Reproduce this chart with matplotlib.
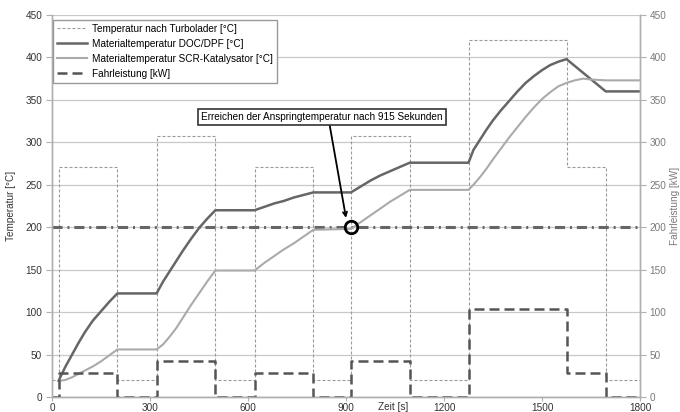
import matplotlib
matplotlib.use("Agg")
import matplotlib.pyplot as plt

plt.rcParams['font.family'] = ['Liberation Sans', 'DejaVu Sans']
plt.rcParams['font.size'] = 7.2

# step profiles (edges in seconds, one value per interval)
step_edges = [0, 20, 200, 320, 500, 620, 800, 915, 1095, 1275, 1575, 1695, 1800]
turbo_temp = [20, 271, 20, 307, 20, 271, 20, 307, 20, 421, 271, 20]
fahrleistung = [0, 28, 0, 43, 0, 28, 0, 43, 0, 104, 28, 0]

# material temperatures
doc_t = [20, 40, 60, 80, 100, 125, 150, 175, 200, 320,
         340, 360, 380, 400, 425, 450, 475, 500, 620,
         650, 680, 710, 740, 770, 800, 915,
         945, 975, 1005, 1035, 1065, 1095, 1275,
         1290, 1310, 1330, 1350, 1375, 1400, 1425, 1450, 1475, 1500, 1525, 1550, 1575,
         1635, 1695, 1800]
doc_temp = [19, 35, 49, 63, 76, 90, 101, 112, 122, 122,
            136, 148, 160, 172, 186, 199, 210, 220, 220,
            224, 228, 231, 235, 238, 241, 241,
            248, 255, 261, 266, 271, 276, 276,
            291, 303, 315, 326, 338, 349, 360, 370, 378, 385, 391, 395, 398,
            379, 360, 360]

scr_t = [20, 40, 60, 80, 100, 125, 150, 175, 200, 320,
         340, 360, 380, 400, 425, 450, 475, 500, 620,
         650, 680, 710, 740, 770, 800, 915,
         945, 975, 1005, 1035, 1065, 1095, 1275,
         1290, 1310, 1330, 1350, 1375, 1400, 1425, 1450, 1475, 1500, 1525, 1550, 1575,
         1600, 1625, 1650, 1695, 1800]
scr_temp = [19, 20, 23, 27, 31, 36, 42, 49, 56, 56,
            62, 71, 81, 93, 108, 122, 136, 149, 149,
            158, 166, 174, 181, 189, 197, 198,
            206, 214, 222, 230, 237, 244, 244,
            250, 259, 269, 280, 293, 306, 318, 330, 341, 351, 359, 366, 370,
            373, 375, 374, 373, 373]

light_off_temp = 200
light_off_time = 915

fig, ax = plt.subplots(figsize=(6.8, 4.12), dpi=100)
fig.subplots_adjust(left=0.0765, right=0.9412, bottom=0.0364, top=0.9636)
ax2 = ax.twinx()

grid_c = '#c8c8c8'
for a in (ax, ax2):
    a.set_xlim(0, 1800)
    a.set_ylim(0, 450)
    a.set_yticks(range(0, 451, 50))
    a.spines['top'].set_visible(False)
    for s in ('left', 'right', 'bottom'):
        a.spines[s].set_color('#b0b0b0')
        a.spines[s].set_linewidth(1.0)
ax.set_xticks(range(0, 1801, 300))
ax.yaxis.grid(True, color=grid_c, lw=0.9)
ax.set_axisbelow(True)
ax.tick_params(axis='y', length=4, width=0.8, color='#b0b0b0', labelcolor='#333333', pad=3)
ax.tick_params(axis='x', length=3, width=0.8, color='#b0b0b0', labelcolor='#333333', pad=1)
ax2.tick_params(axis='y', length=4, width=0.8, color='#b0b0b0', labelcolor='#7a7a7a', pad=3)

l_turbo, = ax.step(step_edges, turbo_temp + turbo_temp[-1:], where='post', color='#999999',
                   lw=0.8, dashes=(2.7, 1.8), label='Temperatur nach Turbolader [°C]')
ax.axhline(light_off_temp, color='#666666', lw=2.2, dashes=(3.3, 1.6, 0.65, 1.6))
l_doc, = ax.plot(doc_t, doc_temp, color='#666666', lw=1.8, label='Materialtemperatur DOC/DPF [°C]')
l_scr, = ax.plot(scr_t, scr_temp, color='#aaaaaa', lw=1.5,
                 label='Materialtemperatur SCR-Katalysator [°C]')

l_fahr, = ax2.step(step_edges, fahrleistung + fahrleistung[-1:], where='post', color='#555555',
                   lw=1.8, dashes=(4, 2), label='Fahrleistung [kW]')

ax2.plot([light_off_time], [light_off_temp], 'o', ms=9, mfc='none', mec='black', mew=2, zorder=6)
ax2.annotate('Erreichen der Anspringtemperatur nach 915 Sekunden',
             xy=(900, 211), xytext=(826, 330), textcoords='data', ha='center', va='center',
             bbox=dict(boxstyle='square,pad=0.3', fc='white', ec='#333333', lw=1.2),
             arrowprops=dict(arrowstyle='->', color='black', lw=1.3, relpos=(0.53, 0.0),
                             shrinkA=0, shrinkB=0))

ax.set_ylabel('Temperatur [°C]', color='#333333')
ax.yaxis.set_label_coords(-0.062, 0.5)
ax2.set_ylabel('Fahrleistung [kW]', color='#7a7a7a', rotation=90)
ax2.yaxis.set_label_coords(1.051, 0.5)
ax.set_xlabel('Zeit [s]', color='#333333')
ax.xaxis.set_label_coords(0.58, -0.012)

leg = ax2.legend(handles=[l_turbo, l_doc, l_scr, l_fahr], loc='upper left',
                 bbox_to_anchor=(0.002, 0.987), borderaxespad=0, fancybox=False,
                 framealpha=1, edgecolor='#999999', borderpad=0.4, handlelength=3.0,
                 handletextpad=0.45, labelspacing=0.5)
leg.get_frame().set_linewidth(1.0)

fig.savefig('out.png', dpi=100, facecolor='white')
